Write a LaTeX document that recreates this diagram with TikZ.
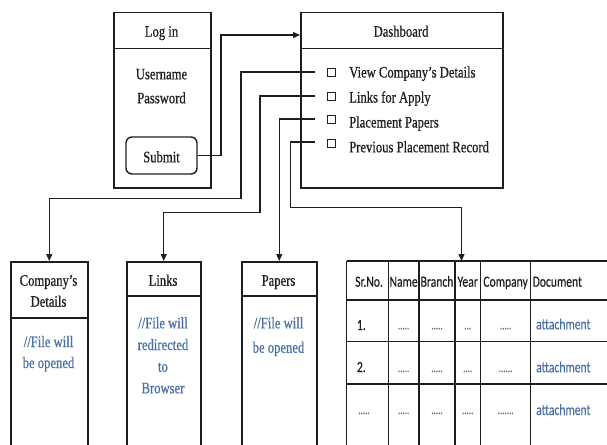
\documentclass[tikz,border=0pt]{standalone}
\usepackage{fontspec}
\setmainfont{Liberation Serif}[FakeStretch=0.79,FakeBold=0.6]
\newfontfamily\tabfont{Carlito}[FakeStretch=0.75,FakeBold=0.3]
\usetikzlibrary{arrows.meta}
\definecolor{ink}{HTML}{1E1E1E}
\definecolor{txtblue}{HTML}{4A6FA5}
\definecolor{dotgray}{HTML}{666666}
\begin{document}
\begin{tikzpicture}[x=1pt,y=-1pt,
  box/.style={draw=ink, line width=1.5pt, inner sep=0pt, anchor=north west},
  lbl/.style={font=\fontsize{16}{19}\selectfont, text=ink, inner sep=0pt, anchor=base},
  note/.style={font=\fontsize{16}{19}\selectfont, text=txtblue, inner sep=0pt, anchor=base},
  chk/.style={draw=ink, line width=1pt, minimum size=8pt, inner sep=0pt},
  conn/.style={draw=ink, line width=1.3pt},
  arr/.style={conn, -{Triangle[length=7pt,width=6pt]}},
  tcell/.style={font=\tabfont\fontsize{15.5}{18}\selectfont, text=ink, inner sep=0pt, anchor=base},
  tlink/.style={tcell, text=txtblue, anchor=base west},
  tdots/.style={font=\tabfont\fontsize{12}{14}\selectfont, text=dotgray, inner sep=0pt, anchor=base},
  grid/.style={draw=ink, line width=1.4pt}
  ]
\useasboundingbox (0,0) rectangle (607,444);
\clip (0,0) rectangle (607,444);

% Log in box
\node[box, minimum width=97pt, minimum height=36pt] (loghead) at (113,12) {};
\node[box, minimum width=97pt, minimum height=139pt] (logbody) at (113,48) {};
\node[lbl] (logt) at (161.5,36.7) {Log in};
\node[lbl] (user) at (161.5,79.3) {Username};
\node[lbl] (pass) at (161.5,103.3) {Password};
\node[draw=ink, line width=1.4pt, rounded corners=6pt, minimum width=71pt, minimum height=37pt, inner sep=0pt] (submit) at (161.5,155.5) {};
\node[lbl] (subt) at (161.5,162.3) {Submit};

% Dashboard box
\node[box, minimum width=202pt, minimum height=36pt] (dashhead) at (300,12) {};
\node[box, minimum width=202pt, minimum height=139pt] (dashbody) at (300,48) {};
\node[lbl] (dasht) at (401,36.7) {Dashboard};
\node[chk] (cb1) at (331,72.5) {};
\node[chk] (cb2) at (331,96.5) {};
\node[chk] (cb3) at (331,119.5) {};
\node[chk] (cb4) at (331,143) {};
\node[lbl, anchor=base west] (it1) at (349,77.5) {View Company’s Details};
\node[lbl, anchor=base west] (it2) at (349,102.5) {Links for Apply};
\node[lbl, anchor=base west] (it3) at (349,127.5) {Placement Papers};
\node[lbl, anchor=base west] (it4) at (349,152.3) {Previous Placement Record};
\coordinate (s1) at (315,72);
\coordinate (s2) at (315,96);
\coordinate (s3) at (315,119);
\coordinate (s4) at (315,142);
\coordinate (dashin) at (300,35);

% Bottom boxes
\node[box, minimum width=77pt, minimum height=56pt] (cdhead) at (10,261) {};
\node[box, minimum width=77pt, minimum height=140pt] (cdbody) at (10,317) {};
\node[lbl] (cdt1) at (48.5,285.7) {Company’s};
\node[lbl] (cdt2) at (48.5,306.7) {Details};
\node[note] (cdn1) at (48.5,347) {//File will};
\node[note] (cdn2) at (48.5,368) {be opened};

\node[box, minimum width=74pt, minimum height=34pt] (linkshead) at (126,261) {};
\node[box, minimum width=74pt, minimum height=160pt] (linksbody) at (126,295) {};
\node[lbl] (lkt) at (163,285.7) {Links};
\node[note] (lkn1) at (163,328.3) {//File will};
\node[note] (lkn2) at (163,350) {redirected};
\node[note] (lkn3) at (163,371.7) {to};
\node[note] (lkn4) at (163,393.3) {Browser};

\node[box, minimum width=75pt, minimum height=34pt] (papershead) at (241,261) {};
\node[box, minimum width=75pt, minimum height=160pt] (papersbody) at (241,295) {};
\node[lbl] (ppt) at (278.5,285.7) {Papers};
\node[note] (ppn1) at (278.5,328.3) {//File will};
\node[note] (ppn2) at (278.5,352.7) {be opened};

% Table
\coordinate (tabtop) at (461.5,261);
\foreach \yy in {261,300,341.7,384} \draw[grid] (346.7,\yy) -- (612,\yy);
\foreach \xx in {346.7,388.3,419,455,480.5,530.7} \draw[grid] (\xx,261) -- (\xx,450);
\node[tcell, anchor=base west] (h1) at (355,286.7) {Sr.No.};
\node[tcell] (h2) at (403.6,286.7) {Name};
\node[tcell] (h3) at (437,286.7) {Branch};
\node[tcell] (h4) at (467.7,286.7) {Year};
\node[tcell] (h5) at (505.6,286.7) {Company};
\node[tcell, anchor=base west] (h6) at (532.5,286.7) {Document};

\node[tcell, anchor=base west] (r1a) at (356.7,330) {1.};
\node[tdots] (r1b) at (403.6,329.3) {.....};
\node[tdots] (r1c) at (437,329.3) {.....};
\node[tdots] (r1d) at (467.7,329.3) {...};
\node[tdots] (r1e) at (505.6,329.3) {.....};
\node[tlink] (r1f) at (536,329.3) {attachment};

\node[tcell, anchor=base west] (r2a) at (356.7,372) {2.};
\node[tdots] (r2b) at (403.6,372) {.....};
\node[tdots] (r2c) at (437,372) {.....};
\node[tdots] (r2d) at (467.7,372) {....};
\node[tdots] (r2e) at (505.6,372) {......};
\node[tlink] (r2f) at (536,372.3) {attachment};

\node[tdots] (r3a) at (364,414) {.....};
\node[tdots] (r3b) at (403.6,414) {.....};
\node[tdots] (r3c) at (437,414) {.....};
\node[tdots] (r3d) at (467.7,414) {.....};
\node[tdots] (r3e) at (505.6,414) {.......};
\node[tlink] (r3f) at (536,415) {attachment};

% Connectors
\draw[arr] (submit.east) -| (221,35) -- (dashin);
\draw[arr] (s1) -| (241,198.3) -| (cdhead.north);
\draw[arr] (s2) -| (260,212.7) -| (linkshead.north);
\draw[arr] (s3) -| (papershead.north);
\draw[arr] (s4) -| (290.5,207.3) -| (tabtop);
\end{tikzpicture}
\end{document}
